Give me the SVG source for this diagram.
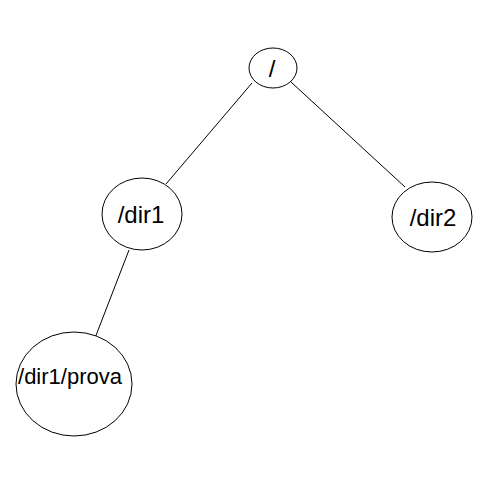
<svg xmlns="http://www.w3.org/2000/svg" width="500" height="500" viewBox="0 0 500 500">
<style>
.n{fill:#fff;stroke:#000;stroke-width:1}
.t{font-family:"Liberation Sans",Arial,sans-serif;fill:#000;text-anchor:middle}
.e{stroke:#000;stroke-width:1;fill:none}
</style>
<rect width="500" height="500" fill="#fff"/>
<g id="edges">
<line class="e" x1="252" y1="83" x2="166" y2="184"/>
<line class="e" x1="291" y1="82" x2="405" y2="187"/>
<line class="e" x1="129" y1="250" x2="95" y2="338"/>
</g>
<g id="root"><ellipse class="n" cx="273" cy="68" rx="24" ry="20"/><text class="t" x="272" y="77" font-size="24">/</text></g>
<g id="dir1"><ellipse class="n" cx="142" cy="214" rx="40" ry="36"/><text class="t" x="141" y="223" font-size="24">/dir1</text></g>
<g id="dir2"><ellipse class="n" cx="432" cy="217" rx="40" ry="35"/><text class="t" x="433" y="226" font-size="24">/dir2</text></g>
<g id="prova"><ellipse class="n" cx="74" cy="384" rx="58" ry="52"/><text class="t" x="70" y="384" font-size="22">/dir1/prova</text></g>
</svg>
